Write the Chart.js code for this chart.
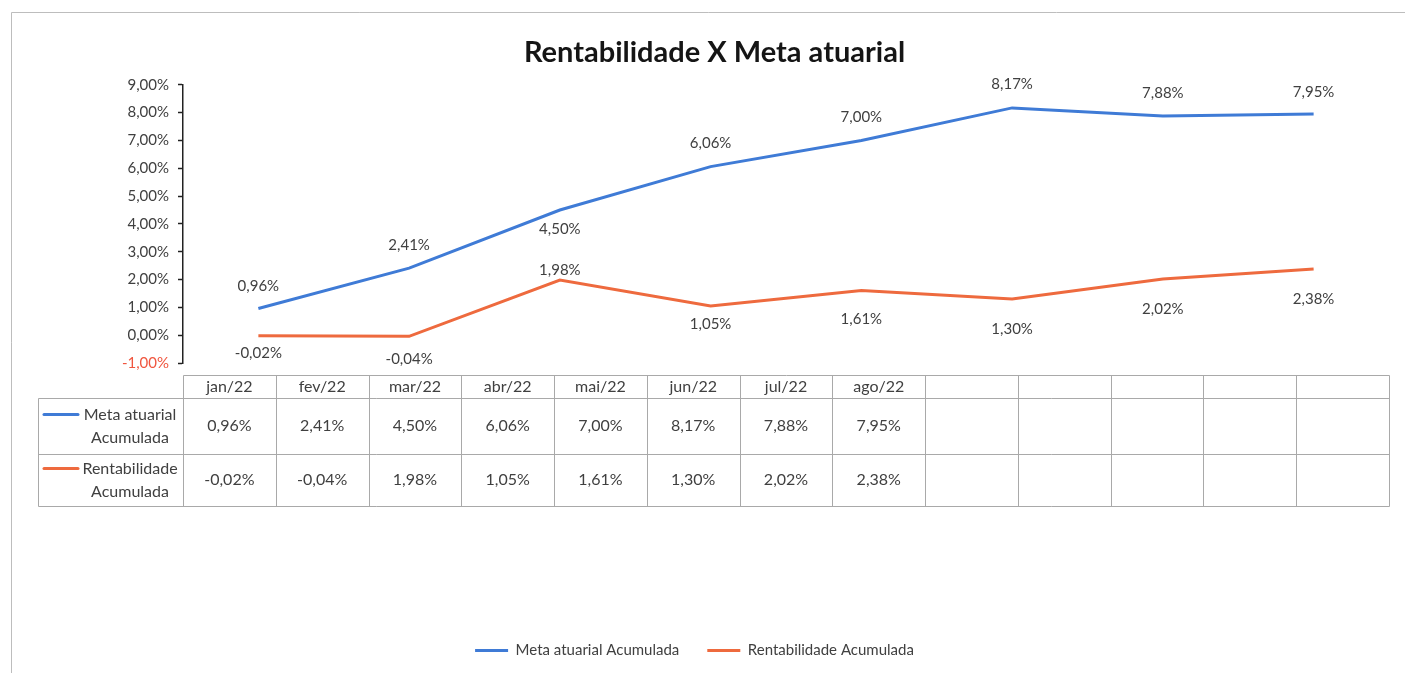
<!DOCTYPE html>
<html><head><meta charset="utf-8">
<script src="https://cdn.jsdelivr.net/npm/chart.js@4.4.1/dist/chart.umd.min.js"></script>
<style>html,body{margin:0;padding:0;background:#fff;}#wrap{width:1405px;height:673px;}</style>
</head><body><div id="wrap"><canvas id="c" width="1405" height="673"></canvas></div>
<script>
// ---- data ----
const chartTitle = 'Rentabilidade X Meta atuarial';
const months = ['jan/22','fev/22','mar/22','abr/22','mai/22','jun/22','jul/22','ago/22'];
const metaLabel = 'Meta atuarial Acumulada';
const rentLabel = 'Rentabilidade Acumulada';
const metaValues = [0.96, 2.41, 4.50, 6.06, 7.00, 8.17, 7.88, 7.95];
const rentValues = [-0.02, -0.04, 1.98, 1.05, 1.61, 1.30, 2.02, 2.38];
const yTicks = [-1, 0, 1, 2, 3, 4, 5, 6, 7, 8, 9];

// ---- style ----
const FONT = 'Lato, "Open Sans", sans-serif';
const TEXT = '#404040';
const BLUE = '#3F7BD6';
const ORANGE = '#EE6A3E';
const NEG = '#F0563F';
const fmt = v => v.toFixed(2).replace('.', ',') + '%';
const px = v => Math.round(v) + 0.5;

const frame = {
  id: 'frame',
  beforeDraw(chart) {
    const c = chart.ctx;
    c.save();
    c.fillStyle = '#fff';
    c.fillRect(0, 0, chart.width, chart.height);
    c.strokeStyle = '#bdbdbd'; c.lineWidth = 1;
    c.beginPath();
    c.moveTo(11.5, chart.height); c.lineTo(11.5, 12.5); c.lineTo(chart.width, 12.5);
    c.stroke();
    c.restore();
  }
};

const titleShift = {
  id: 'titleShift',
  afterLayout(chart, args, opts) {
    const t = chart.titleBlock;
    if (t) { t.left += 2 * opts.shift; t.width = t.right - t.left; }
  }
};

const pointLabels = {
  id: 'pointLabels',
  afterDatasetsDraw(chart, args, opts) {
    const c = chart.ctx;
    c.save();
    c.font = '15px ' + FONT;
    c.fillStyle = TEXT;
    c.textAlign = 'center';
    c.textBaseline = 'middle';
    chart.data.datasets.forEach((ds, di) => {
      const meta = chart.getDatasetMeta(di);
      const offs = opts.offsets[di];
      meta.data.forEach((pt, i) => {
        c.fillText(fmt(ds.data[i]), pt.x, pt.y + offs[i]);
      });
    });
    c.restore();
  }
};

const dataTable = {
  id: 'dataTable',
  afterDraw(chart, args, opts) {
    const c = chart.ctx, area = chart.chartArea;
    const x0 = opts.left, x1 = area.left, x2 = area.right;
    const colW = (x2 - x1) / opts.columns;
    const yTop = area.bottom + opts.gap;
    const rowsY = [yTop + opts.headerHeight];
    opts.rowHeights.forEach(h => rowsY.push(rowsY[rowsY.length - 1] + h));
    const yBot = rowsY[rowsY.length - 1];
    c.save();
    c.strokeStyle = opts.borderColor; c.lineWidth = 1;
    c.beginPath();
    c.moveTo(px(x1), px(yTop)); c.lineTo(px(x2), px(yTop));
    rowsY.forEach(y => { c.moveTo(px(x0), px(y)); c.lineTo(px(x2), px(y)); });
    c.moveTo(px(x0), px(rowsY[0])); c.lineTo(px(x0), px(yBot));
    for (let k = 0; k <= opts.columns; k++) {
      const x = px(x1 + k * colW);
      c.moveTo(x, px(yTop)); c.lineTo(x, px(yBot));
    }
    c.stroke();

    c.font = '16px ' + FONT;
    c.fillStyle = TEXT;
    c.textAlign = 'center';
    c.textBaseline = 'middle';
    const labels = chart.data.labels;
    labels.forEach((l, k) => c.fillText(l, x1 + (k + 0.5) * colW, yTop + opts.headerHeight / 2));
    chart.data.datasets.forEach((ds, di) => {
      const top = rowsY[di], h = opts.rowHeights[di];
      const cy = top + h / 2;
      ds.data.forEach((v, k) => c.fillText(fmt(v), x1 + (k + 0.5) * colW, cy));
      const sp = ds.label.lastIndexOf(' ');
      const lines = [ds.label.slice(0, sp), ds.label.slice(sp + 1)];
      const ly1 = cy - 11.5, ly2 = cy + 11.5;
      c.fillStyle = TEXT;
      c.fillText(lines[0], opts.headerCenter, ly1);
      c.fillText(lines[1], opts.headerCenter, ly2);
      c.strokeStyle = ds.borderColor; c.lineWidth = 3; c.lineCap = 'round';
      c.beginPath(); c.moveTo(opts.keyStart, ly1); c.lineTo(opts.keyEnd, ly1); c.stroke();
    });
    c.restore();
  }
};

new Chart(document.getElementById('c'), {
  type: 'line',
  data: {
    labels: months,
    datasets: [
      { label: metaLabel, data: metaValues, borderColor: BLUE, backgroundColor: BLUE, borderWidth: 3, pointRadius: 0, tension: 0 },
      { label: rentLabel, data: rentValues, borderColor: ORANGE, backgroundColor: ORANGE, borderWidth: 3, pointRadius: 0, tension: 0 }
    ]
  },
  options: {
    responsive: false,
    animation: false,
    devicePixelRatio: 1,
    layout: { padding: { left: 0, right: 16, top: 0, bottom: 5 } },
    plugins: {
      title: {
        display: true, text: chartTitle, color: '#151515',
        font: { family: FONT, size: 29, weight: 'bold' },
        padding: { top: 35, bottom: 15 }
      },
      titleShift: { shift: 20 },
      legend: {
        position: 'bottom',
        labels: {
          usePointStyle: true, pointStyle: 'line', pointStyleWidth: 33,
          padding: 28, color: TEXT, font: { family: FONT, size: 15 }
        }
      },
      tooltip: { enabled: false },
      pointLabels: {
        offsets: [
          [-22, -23, 19, -23, -23, -24, -23, -22],
          [17, 23, -10, 18, 29, 30, 30, 30]
        ]
      },
      dataTable: {
        left: 38, columns: 13, gap: 12, headerHeight: 23, rowHeights: [56, 52],
        borderColor: '#a9a9a9', headerCenter: 130, keyStart: 44, keyEnd: 78
      }
    },
    scales: {
      x: {
        offset: true,
        grid: { display: false },
        border: { display: false },
        ticks: { display: false },
        afterFit: s => { s.height = 252; }
      },
      y: {
        min: -1, max: 9,
        afterBuildTicks: axis => { axis.ticks = yTicks.map(v => ({ value: v })); },
        ticks: {
          padding: 9,
          font: { family: FONT, size: 15 },
          color: ctx => (ctx.tick && ctx.tick.value < 0) ? NEG : TEXT,
          callback: v => fmt(v)
        },
        grid: { drawOnChartArea: false, drawTicks: true, tickLength: 5, tickColor: '#222', tickWidth: 1.5 },
        border: { display: true, color: '#222', width: 1.5 },
        afterFit: s => { s.width = 183; }
      }
    }
  },
  plugins: [frame, titleShift, pointLabels, dataTable]
});
</script></body></html>
